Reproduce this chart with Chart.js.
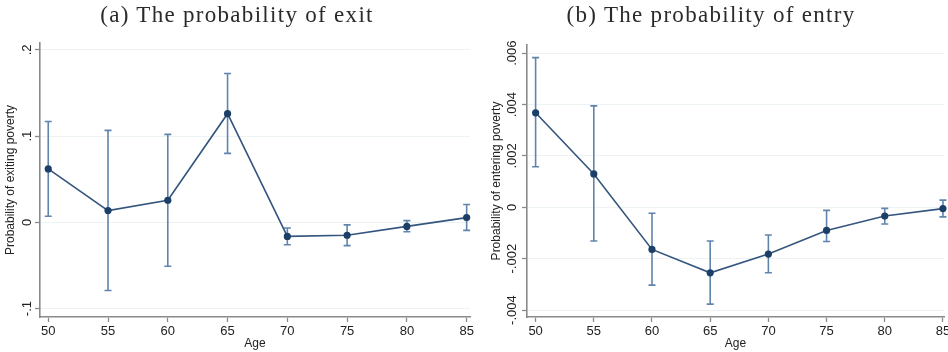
<!DOCTYPE html>
<html>
<head>
<meta charset="utf-8">
<script src="https://cdn.jsdelivr.net/npm/chart.js@4.4.1/dist/chart.umd.min.js"></script>
<style>
  html, body { margin: 0; padding: 0; background: #fff; }
  #wrap { position: relative; width: 948px; height: 352px; overflow: hidden; }
  canvas { position: absolute; top: 0; }
  .ttl { position: absolute; top: 2px; font-family: "Liberation Serif", "DejaVu Serif", serif;
         font-size: 23px; letter-spacing: 1.3px; color: #2a2a2a; white-space: nowrap; text-align: center; width: 474px; }
</style>
</head>
<body>
<div id="wrap">
  <canvas id="exitChart" width="474" height="352" style="left:0"></canvas>
  <canvas id="entryChart" width="474" height="352" style="left:474px"></canvas>
  <div class="ttl" style="left:0">(a) The probability of exit</div>
  <div class="ttl" style="left:474px">(b) The probability of entry</div>
</div>
<script>
// Data
const ages = [50, 55, 60, 65, 70, 75, 80, 85];

const exitEst  = [0.062, 0.0136, 0.0256, 0.126, -0.0163, -0.015, -0.0047, 0.0055];
const exitLow  = [0.007, -0.079, -0.051, 0.080, -0.026, -0.027, -0.011, -0.0093];
const exitHigh = [0.117, 0.1066, 0.102, 0.1726, -0.0065, -0.003, 0.002, 0.0206];

const entryEst  = [0.00368, 0.00130, -0.00164, -0.00255, -0.00182, -0.00090, -0.00034, -0.00005];
const entryLow  = [0.00158, -0.00131, -0.00303, -0.00377, -0.00255, -0.00133, -0.00065, -0.00037];
const entryHigh = [0.00583, 0.00395, -0.00023, -0.00131, -0.00108, -0.00012, -0.00004, 0.00028];

const xTicks = [50, 55, 60, 65, 70, 75, 80, 85];
const exitTicks = [-0.1, 0, 0.1, 0.2];
const entryTicks = [-0.004, -0.002, 0, 0.002, 0.004, 0.006];

const LINE = '#34557e';
const MARK = '#1c3f68';
const BAR = '#6184ad';
const AXIS = '#8a8a8a';
const GRID = '#edf3f4';
const TXT = '#222';

// Stata-style labels: .2, -.1, .004
function stataFmt(v) {
    if (Math.abs(v) < 1e-12) return '0';
    let s = parseFloat(v.toPrecision(6)).toString();
    return s.replace('0.', '.');
}

// error bars with caps, drawn under the line and markers
const errorBars = {
    id: 'errorBars',
    beforeDatasetsDraw(chart, args, opts) {
        const ctx = chart.ctx;
        const xs = chart.scales.x, ys = chart.scales.y;
        ctx.save();
        ctx.strokeStyle = BAR;
        ctx.lineWidth = 1.6;
        opts.low.forEach((lo, i) => {
            const px = xs.getPixelForValue(ages[i]);
            const y1 = ys.getPixelForValue(lo);
            const y2 = ys.getPixelForValue(opts.high[i]);
            ctx.beginPath();
            ctx.moveTo(px, y1); ctx.lineTo(px, y2);
            ctx.moveTo(px - 3.5, y1); ctx.lineTo(px + 3.5, y1);
            ctx.moveTo(px - 3.5, y2); ctx.lineTo(px + 3.5, y2);
            ctx.stroke();
        });
        ctx.restore();
    }
};

// rotated y tick labels
const rotatedTicks = {
    id: 'rotatedTicks',
    afterDraw(chart, args, opts) {
        const ctx = chart.ctx;
        const ys = chart.scales.y;
        ctx.save();
        ctx.font = '13px "Liberation Sans", Arial, sans-serif';
        ctx.fillStyle = TXT;
        ctx.textAlign = 'center';
        ctx.textBaseline = 'middle';
        ys.ticks.forEach(t => {
            const py = ys.getPixelForValue(t.value);
            ctx.save();
            ctx.translate(chart.chartArea.left - opts.offset, py);
            ctx.rotate(-Math.PI / 2);
            ctx.fillText(stataFmt(t.value), 0, 0);
            ctx.restore();
        });
        ctx.restore();
    }
};

function makeChart(id, est, low, high, yTicks, cfg) {
    const ctx = document.getElementById(id).getContext('2d');
    return new Chart(ctx, {
        type: 'line',
        data: {
            datasets: [{
                data: ages.map((a, i) => ({ x: a, y: est[i] })),
                borderColor: LINE,
                borderWidth: 1.6,
                pointRadius: 3.6,
                pointBackgroundColor: MARK,
                pointBorderColor: MARK,
                pointBorderWidth: 0,
                tension: 0,
                clip: false
            }]
        },
        options: {
            responsive: false,
            animation: false,
            layout: { padding: { top: cfg.top, right: cfg.right, left: 0, bottom: 0 } },
            plugins: {
                legend: { display: false },
                tooltip: { enabled: false },
                errorBars: { low: low, high: high },
                rotatedTicks: { offset: cfg.labelOffset }
            },
            scales: {
                x: {
                    type: 'linear',
                    min: cfg.xMin, max: cfg.xMax,
                    afterBuildTicks: s => { s.ticks = xTicks.map(v => ({ value: v })); },
                    afterFit: s => { s.height = 35; s.paddingLeft = 0; s.paddingRight = 0; },
                    grid: { drawOnChartArea: false, drawTicks: true, tickLength: 5, tickColor: AXIS, tickWidth: 1.3 },
                    border: { display: true, color: AXIS, width: 1.6 },
                    ticks: { color: TXT, font: { family: '"Liberation Sans", Arial', size: 13 }, padding: 2, maxRotation: 0 },
                    title: { display: true, text: 'Age', color: TXT, font: { family: '"Liberation Sans", Arial', size: 12 }, padding: { top: 0, bottom: 1 } }
                },
                y: {
                    min: cfg.yMin, max: cfg.yMax,
                    afterBuildTicks: s => { s.ticks = yTicks.map(v => ({ value: v })); },
                    afterFit: s => { s.width = cfg.yWidth; s.paddingTop = 0; s.paddingBottom = 0; },
                    grid: { color: GRID, lineWidth: 1, drawTicks: true, tickLength: 5, tickColor: AXIS, tickWidth: 1.3 },
                    border: { display: true, color: AXIS, width: 1.6 },
                    ticks: { display: false },
                    title: { display: true, text: cfg.yTitle, color: TXT, font: { family: '"Liberation Sans", Arial', size: 12 }, padding: { top: cfg.titlePad, bottom: 0 } }
                }
            }
        },
        plugins: [errorBars, rotatedTicks]
    });
}

makeChart('exitChart', exitEst, exitLow, exitHigh, exitTicks, {
    top: 43, right: 4, xMin: 49.31, xMax: 85.28, yMin: -0.1098, yMax: 0.208,
    yWidth: 40, labelOffset: 13, titlePad: 3, yTitle: 'Probability of exiting poverty'
});

makeChart('entryChart', entryEst, entryLow, entryHigh, entryTicks, {
    top: 45, right: 0, xMin: 49.26, xMax: 85.09, yMin: -0.00427, yMax: 0.00632,
    yWidth: 53, labelOffset: 15, titlePad: 15, yTitle: 'Probability of entering poverty'
});
</script>
</body>
</html>
